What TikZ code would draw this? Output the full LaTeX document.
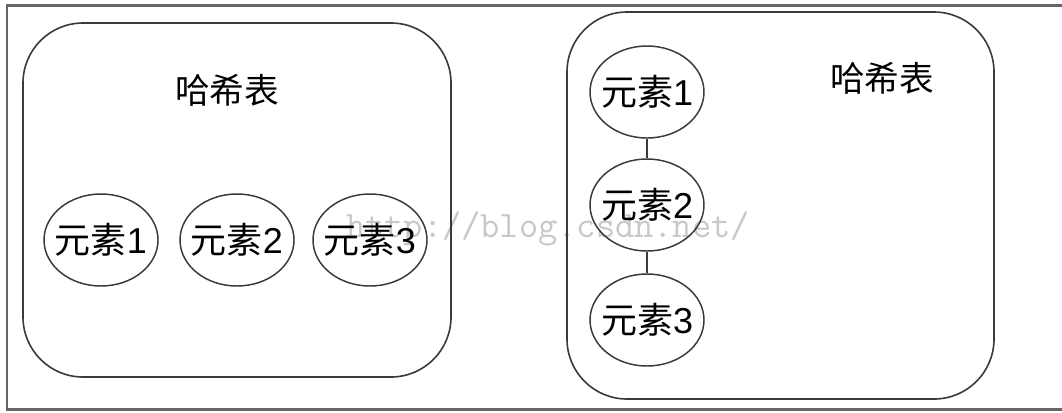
\documentclass[tikz,border=0pt]{standalone}
\usepackage{fontspec}
\setmainfont{Liberation Sans}
\newfontfamily\cjk{Noto Sans CJK SC}
\newfontfamily\wmfont{Latin Modern Mono}
\usetikzlibrary{shapes.geometric}
\definecolor{linegray}{HTML}{3A3A3A}
\definecolor{wmgray}{HTML}{C8C8C8}
\tikzset{
  hashbox/.style={draw=linegray, line width=1.2pt, rounded corners=45pt},
  elem/.style={ellipse, draw=linegray, line width=1.1pt, minimum width=85.5pt, minimum height=69pt, inner sep=0pt},
  elemtext/.style={font=\fontsize{27}{30}\selectfont, inner sep=0pt},
  title/.style={font=\fontsize{26}{30}\selectfont\cjk},
  link/.style={draw=linegray, line width=1.1pt},
  frame/.style={draw=gray!80!black, line width=1.6pt},
  watermark/.style={text=wmgray, font=\fontsize{28}{30}\wmfont}
}
\begin{document}
\begin{tikzpicture}[x=0.75pt,y=-0.75pt]
\useasboundingbox (0,0) rectangle (1062,412);
\fill[white] (0,0) rectangle (1062,412);
% outer frame (right edge outside picture)
\coordinate (ftr) at (1065,5.5);
\coordinate (ftl) at (7,5.5);
\coordinate (fbl) at (7,409.5);
\coordinate (fbr) at (1065,409.5);
\draw[frame] (ftr) -- (ftl) -- (fbl) -- (fbr);
% watermark
\node[watermark] (wm) at (548,229) {http://blog.csdn.net/};
% left hash table
\draw[hashbox] (23,23) rectangle (451,377);
\node[title] (t1) at (227,90) {哈希表};
\node[elem, label={[elemtext]center:{\cjk 元素}1}] (a1) at (101,240) {};
\node[elem, label={[elemtext]center:{\cjk 元素}2}] (a2) at (237,240) {};
\node[elem, label={[elemtext]center:{\cjk 元素}3}] (a3) at (370,240) {};
% right hash table
\draw[hashbox] (567,12) rectangle (994,399);
\node[title] (t2) at (882,78) {哈希表};
\node[elem, label={[elemtext]center:{\cjk 元素}1}] (b1) at (647,92) {};
\node[elem, label={[elemtext]center:{\cjk 元素}2}] (b2) at (647,205) {};
\node[elem, label={[elemtext]center:{\cjk 元素}3}] (b3) at (647,320) {};
\draw[link] (b1) -- (b2);
\draw[link] (b2) -- (b3);
\end{tikzpicture}
\end{document}
